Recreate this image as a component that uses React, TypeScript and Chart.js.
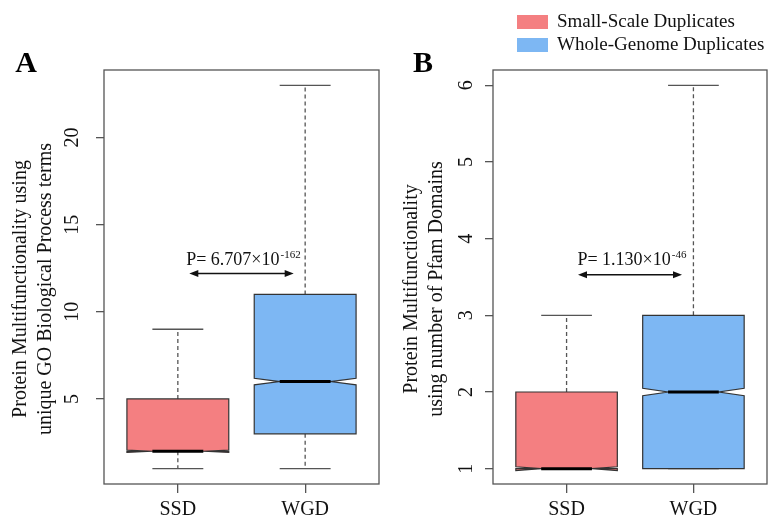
import React, { useEffect, useRef } from 'react';
import { Chart, registerables } from 'chart.js';

Chart.register(...registerables);

const SERIF = "'Liberation Serif', 'Times New Roman', serif";

// ---------- shared ----------
const CATEGORIES = ['SSD', 'WGD'];
const SERIES_NAMES = ['Small-Scale Duplicates', 'Whole-Genome Duplicates'];
const COLORS = ['#F47F81', '#7DB7F3'];
const BOX_WIDTH = 0.8;
const X_RANGE = [0.42, 2.58];
const ARROW_X = [1.09, 1.91];
const P_TEXT_X = 1.515;

// ---------- panel A : GO Biological Process terms ----------
const GO_WHISKER_LOW = [1, 1];
const GO_Q1 = [2, 3];
const GO_MEDIAN = [2, 6];
const GO_Q3 = [5, 11];
const GO_WHISKER_HIGH = [9, 23];
const GO_NOTCH_LOW = [1.93, 5.81];
const GO_NOTCH_HIGH = [2.07, 6.19];
const GO_TICKS = [5, 10, 15, 20];
const GO_RANGE = [0.12, 23.88];
const GO_TITLE = ['Protein Multifunctionality using', 'unique GO Biological Process terms'];
const GO_P_TEXT = 'P= 6.707×10';
const GO_P_EXP = '-162';
const GO_P_TEXT_Y = 12.7;
const GO_ARROW_Y = 12.2;

// ---------- panel B : Pfam domains ----------
const PF_WHISKER_LOW = [1, 1];
const PF_Q1 = [1, 1];
const PF_MEDIAN = [1, 2];
const PF_Q3 = [2, 3];
const PF_WHISKER_HIGH = [3, 6];
const PF_NOTCH_LOW = [0.975, 1.952];
const PF_NOTCH_HIGH = [1.025, 2.048];
const PF_TICKS = [1, 2, 3, 4, 5, 6];
const PF_RANGE = [0.8, 6.2];
const PF_TITLE = ['Protein Multifunctionality', 'using number of Pfam Domains'];
const PF_P_TEXT = 'P= 1.130×10';
const PF_P_EXP = '-46';
const PF_P_TEXT_Y = 3.66;
const PF_ARROW_Y = 3.53;

type PanelCfg = {
  letter: string;
  low: number[]; q1: number[]; med: number[]; q3: number[]; high: number[];
  nlo: number[]; nhi: number[];
  ticks: number[]; range: number[];
  title: string[];
  pText: string; pExp: string; pTextY: number; arrowY: number;
  // layout
  canvasLeft: number; canvasWidth: number; yWidth: number; padRight: number;
  titleX: number[]; letterX: number; legend: boolean;
};

const PANEL_A: PanelCfg = {
  letter: 'A',
  low: GO_WHISKER_LOW, q1: GO_Q1, med: GO_MEDIAN, q3: GO_Q3, high: GO_WHISKER_HIGH,
  nlo: GO_NOTCH_LOW, nhi: GO_NOTCH_HIGH,
  ticks: GO_TICKS, range: GO_RANGE, title: GO_TITLE,
  pText: GO_P_TEXT, pExp: GO_P_EXP, pTextY: GO_P_TEXT_Y, arrowY: GO_ARROW_Y,
  canvasLeft: 0, canvasWidth: 390, yWidth: 104, padRight: 11,
  titleX: [21, 46], letterX: 26, legend: false,
};

const PANEL_B: PanelCfg = {
  letter: 'B',
  low: PF_WHISKER_LOW, q1: PF_Q1, med: PF_MEDIAN, q3: PF_Q3, high: PF_WHISKER_HIGH,
  nlo: PF_NOTCH_LOW, nhi: PF_NOTCH_HIGH,
  ticks: PF_TICKS, range: PF_RANGE, title: PF_TITLE,
  pText: PF_P_TEXT, pExp: PF_P_EXP, pTextY: PF_P_TEXT_Y, arrowY: PF_ARROW_Y,
  canvasLeft: 390, canvasWidth: 379, yWidth: 103, padRight: 2,
  titleX: [22, 47], letterX: 33, legend: true,
};

function makePlugin(cfg: PanelCfg) {
  return {
    id: 'rBoxplot' + cfg.letter,
    afterDraw(chart: any) {
      const { ctx, chartArea: a } = chart;
      const xs = chart.scales.x;
      const ys = chart.scales.y;
      const px = (v: number) => xs.getPixelForValue(v);
      const py = (v: number) => ys.getPixelForValue(v);
      const half = BOX_WIDTH / 2;
      const line = (x1: number, y1: number, x2: number, y2: number) => {
        ctx.beginPath();
        ctx.moveTo(x1, y1);
        ctx.lineTo(x2, y2);
        ctx.stroke();
      };
      ctx.save();

      CATEGORIES.forEach((_, i) => {
        const pos = i + 1;
        const xc = px(pos);
        const xl = px(pos - half);
        const xr = px(pos + half);
        const xnl = px(pos - half / 2);
        const xnr = px(pos + half / 2);

        // whiskers (dashed)
        ctx.strokeStyle = '#555';
        ctx.lineWidth = 1.3;
        ctx.setLineDash([4, 3]);
        line(xc, py(cfg.q3[i]), xc, py(cfg.high[i]));
        line(xc, py(cfg.q1[i]), xc, py(cfg.low[i]));
        ctx.setLineDash([]);
        // staples
        line(xnl, py(cfg.high[i]), xnr, py(cfg.high[i]));
        line(xnl, py(cfg.low[i]), xnr, py(cfg.low[i]));

        // notched box
        ctx.beginPath();
        ctx.moveTo(xl, py(cfg.q1[i]));
        ctx.lineTo(xl, py(cfg.nlo[i]));
        ctx.lineTo(xnl, py(cfg.med[i]));
        ctx.lineTo(xl, py(cfg.nhi[i]));
        ctx.lineTo(xl, py(cfg.q3[i]));
        ctx.lineTo(xr, py(cfg.q3[i]));
        ctx.lineTo(xr, py(cfg.nhi[i]));
        ctx.lineTo(xnr, py(cfg.med[i]));
        ctx.lineTo(xr, py(cfg.nlo[i]));
        ctx.lineTo(xr, py(cfg.q1[i]));
        ctx.closePath();
        ctx.fillStyle = COLORS[i];
        ctx.fill();
        ctx.strokeStyle = '#333';
        ctx.lineWidth = 1.2;
        ctx.stroke();

        // median
        ctx.strokeStyle = '#000';
        ctx.lineWidth = 3;
        line(xnl, py(cfg.med[i]), xnr, py(cfg.med[i]));
      });

      // frame
      ctx.strokeStyle = '#555';
      ctx.lineWidth = 1.3;
      ctx.strokeRect(a.left, a.top, a.right - a.left, a.bottom - a.top);

      // p-value arrow
      const ay = py(cfg.arrowY);
      const ax1 = px(ARROW_X[0]);
      const ax2 = px(ARROW_X[1]);
      ctx.strokeStyle = '#111';
      ctx.fillStyle = '#111';
      ctx.lineWidth = 1.5;
      line(ax1 + 4, ay, ax2 - 4, ay);
      ctx.beginPath();
      ctx.moveTo(ax1, ay);
      ctx.lineTo(ax1 + 9, ay - 3.5);
      ctx.lineTo(ax1 + 9, ay + 3.5);
      ctx.closePath();
      ctx.fill();
      ctx.beginPath();
      ctx.moveTo(ax2, ay);
      ctx.lineTo(ax2 - 9, ay - 3.5);
      ctx.lineTo(ax2 - 9, ay + 3.5);
      ctx.closePath();
      ctx.fill();

      // p-value text
      ctx.textBaseline = 'alphabetic';
      ctx.textAlign = 'left';
      ctx.font = `18px ${SERIF}`;
      const w1 = ctx.measureText(cfg.pText).width;
      ctx.font = `11px ${SERIF}`;
      const w2 = ctx.measureText(cfg.pExp).width;
      const tx = px(P_TEXT_X) - (w1 + w2 + 1) / 2;
      const ty = py(cfg.pTextY);
      ctx.font = `18px ${SERIF}`;
      ctx.fillText(cfg.pText, tx, ty);
      ctx.font = `11px ${SERIF}`;
      ctx.fillText(cfg.pExp, tx + w1 + 1, ty - 7);

      // y-axis title (two lines, rotated)
      const cy = (a.top + a.bottom) / 2 + 12;
      ctx.font = `20px ${SERIF}`;
      ctx.textAlign = 'center';
      ctx.textBaseline = 'middle';
      cfg.title.forEach((t, k) => {
        ctx.save();
        ctx.translate(cfg.titleX[k], cy);
        ctx.rotate(-Math.PI / 2);
        ctx.fillText(t, 0, 0);
        ctx.restore();
      });

      // panel letter
      ctx.font = `bold 30px ${SERIF}`;
      ctx.textAlign = 'center';
      ctx.textBaseline = 'alphabetic';
      ctx.fillStyle = '#000';
      ctx.fillText(cfg.letter, cfg.letterX, 72);

      // legend
      if (cfg.legend) {
        ctx.font = `19px ${SERIF}`;
        ctx.textAlign = 'left';
        ctx.textBaseline = 'middle';
        SERIES_NAMES.forEach((name, k) => {
          const by = 15 + k * 23;
          ctx.fillStyle = COLORS[k];
          ctx.fillRect(127, by, 31, 14);
          ctx.fillStyle = '#111';
          ctx.fillText(name, 167, by + 7.5);
        });
      }
      ctx.restore();
    },
  };
}

function BoxPanel({ cfg }: { cfg: PanelCfg }) {
  const ref = useRef<HTMLCanvasElement>(null);
  useEffect(() => {
    const chart = new Chart(ref.current as HTMLCanvasElement, {
      type: 'scatter',
      data: { datasets: [] },
      plugins: [makePlugin(cfg)],
      options: {
        responsive: false,
        animation: false,
        devicePixelRatio: 1,
        layout: { padding: { top: 70, left: 0, right: cfg.padRight, bottom: 0 } },
        plugins: { legend: { display: false }, tooltip: { enabled: false } },
        scales: {
          x: {
            type: 'linear',
            min: X_RANGE[0],
            max: X_RANGE[1],
            afterBuildTicks: (s: any) => {
              s.ticks = CATEGORIES.map((_, i) => ({ value: i + 1 }));
            },
            afterFit: (s: any) => {
              s.height = 36;
            },
            grid: { drawOnChartArea: false, drawTicks: true, tickLength: 9, color: '#555', lineWidth: 1.3 },
            border: { display: false },
            ticks: {
              autoSkip: false,
              maxRotation: 0,
              padding: 5,
              color: '#111',
              font: { family: SERIF, size: 20 },
              callback: (v: any) => CATEGORIES[Math.round(Number(v)) - 1],
            },
          },
          y: {
            type: 'linear',
            min: cfg.range[0],
            max: cfg.range[1],
            afterBuildTicks: (s: any) => {
              s.ticks = cfg.ticks.map((v) => ({ value: v }));
            },
            afterFit: (s: any) => {
              s.width = cfg.yWidth;
            },
            grid: { drawOnChartArea: false, drawTicks: true, tickLength: 8, color: '#555', lineWidth: 1.3 },
            border: { display: false },
            ticks: {
              minRotation: 90,
              maxRotation: 90,
              crossAlign: 'center',
              padding: 13,
              color: '#111',
              font: { family: SERIF, size: 20 },
            },
          },
        },
      } as any,
    });
    return () => chart.destroy();
  }, [cfg]);
  return (
    <canvas
      ref={ref}
      width={cfg.canvasWidth}
      height={520}
      style={{ position: 'absolute', left: cfg.canvasLeft, top: 0, width: cfg.canvasWidth, height: 520 }}
    />
  );
}

export default function App() {
  return (
    <div style={{ position: 'absolute', left: 0, top: 0, width: 769, height: 520, background: '#fff' }}>
      <BoxPanel cfg={PANEL_A} />
      <BoxPanel cfg={PANEL_B} />
    </div>
  );
}
